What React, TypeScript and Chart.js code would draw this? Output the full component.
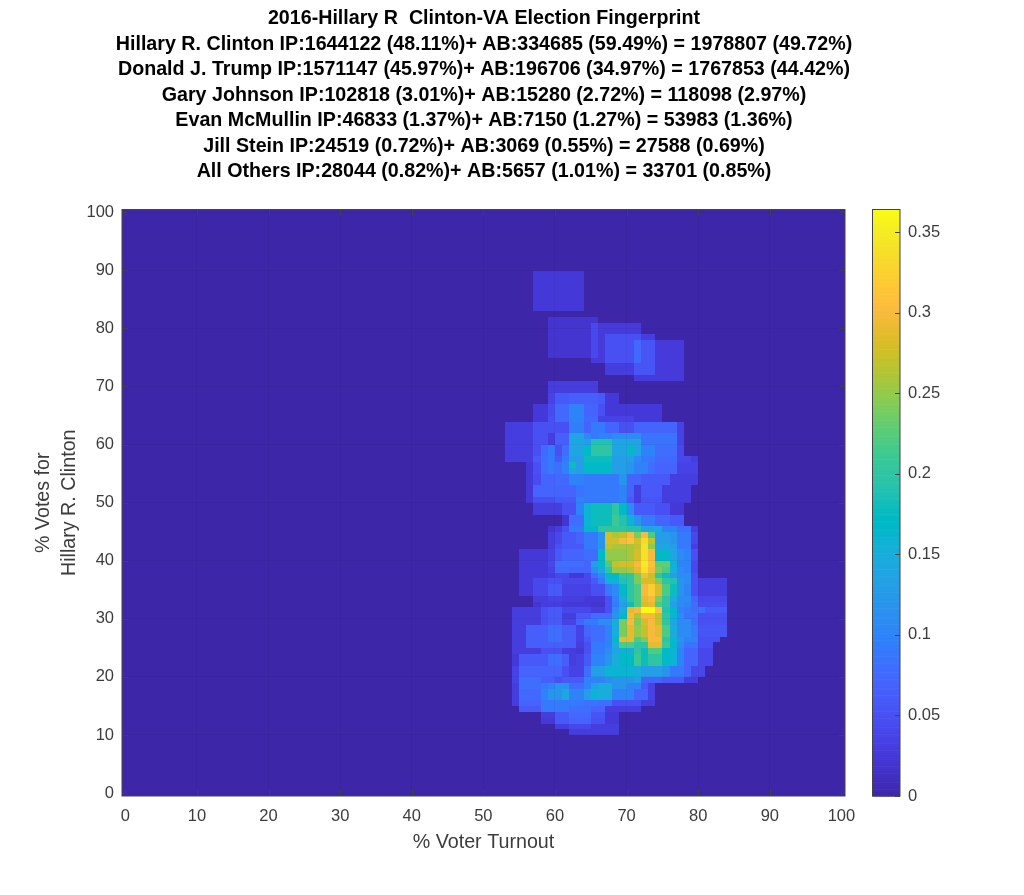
import React, { useEffect, useRef } from "react";
import { Chart, registerables } from "chart.js";

Chart.register(...registerables);

const titleLines = [
  "2016-Hillary R  Clinton-VA Election Fingerprint",
  "Hillary R. Clinton IP:1644122 (48.11%)+ AB:334685 (59.49%) = 1978807 (49.72%)",
  "Donald J. Trump IP:1571147 (45.97%)+ AB:196706 (34.97%) = 1767853 (44.42%)",
  "Gary Johnson IP:102818 (3.01%)+ AB:15280 (2.72%) = 118098 (2.97%)",
  "Evan McMullin IP:46833 (1.37%)+ AB:7150 (1.27%) = 53983 (1.36%)",
  "Jill Stein IP:24519 (0.72%)+ AB:3069 (0.55%) = 27588 (0.69%)",
  "All Others IP:28044 (0.82%)+ AB:5657 (1.01%) = 33701 (0.85%)",
];
const xAxisLabel = "% Voter Turnout";
const yAxisLabel = ["% Votes for", "Hillary R. Clinton"];
const axisTicks = [0, 10, 20, 30, 40, 50, 60, 70, 80, 90, 100];
const colorbarTicks = [0, 0.05, 0.1, 0.15, 0.2, 0.25, 0.3, 0.35];
const colorMax = 0.364;

type Run = [number, number, number];
type Row = [number, number, Run[]];

// [first row, last row, [[first column, last column, density], ...]]
const upperRows: Row[] = [
  [83, 89, [[57, 63, 0.025]]],
  [81, 81, [[59, 65, 0.02]]],
  [79, 80, [[59, 64, 0.02], [65, 65, 0.042], [66, 71, 0.027]]],
  [78, 78, [[59, 64, 0.02], [65, 65, 0.042], [66, 66, 0.027], [67, 71, 0.05], [72, 73, 0.03]]],
  [75, 77, [[59, 64, 0.02], [65, 65, 0.042], [66, 66, 0.027], [67, 70, 0.05], [71, 71, 0.075], [72, 73, 0.055], [74, 77, 0.027]]],
  [74, 74, [[65, 66, 0.027], [67, 70, 0.05], [71, 71, 0.075], [72, 73, 0.055], [74, 77, 0.027]]],
  [72, 73, [[67, 70, 0.03], [71, 73, 0.055], [74, 77, 0.027]]],
  [71, 71, [[71, 77, 0.027]]],
  [69, 70, [[59, 65, 0.03]]],
  [67, 68, [[59, 59, 0.035], [60, 61, 0.06], [62, 65, 0.065], [66, 66, 0.06], [67, 68, 0.025]]],
  [65, 66, [[57, 58, 0.025], [59, 59, 0.045], [60, 61, 0.075], [62, 63, 0.1], [64, 65, 0.07], [66, 66, 0.05], [67, 74, 0.025]]],
  [64, 64, [[57, 58, 0.025], [59, 59, 0.05], [60, 61, 0.075], [62, 63, 0.1], [64, 65, 0.075], [66, 70, 0.035], [71, 74, 0.025]]],
  [62, 63, [[53, 56, 0.03], [57, 61, 0.05], [62, 63, 0.095], [64, 64, 0.07], [65, 66, 0.09], [67, 68, 0.07], [69, 70, 0.05], [71, 76, 0.07], [77, 77, 0.035]]],
  [61, 61, [[53, 56, 0.03], [57, 58, 0.05], [59, 59, 0.03], [60, 61, 0.065], [62, 63, 0.14], [64, 64, 0.105], [65, 65, 0.09], [66, 67, 0.1], [68, 71, 0.11], [72, 76, 0.085], [77, 77, 0.035]]],
  [60, 60, [[53, 56, 0.03], [57, 58, 0.05], [59, 59, 0.03], [60, 61, 0.065], [62, 63, 0.14], [64, 64, 0.13], [65, 67, 0.19], [68, 71, 0.14], [72, 76, 0.085], [77, 77, 0.035]]],
  [58, 59, [[53, 56, 0.03], [57, 57, 0.05], [58, 58, 0.075], [59, 59, 0.09], [60, 60, 0.05], [61, 61, 0.08], [62, 63, 0.14], [64, 64, 0.17], [65, 67, 0.2], [68, 69, 0.14], [70, 70, 0.17], [71, 71, 0.14], [72, 73, 0.1], [74, 76, 0.08], [77, 77, 0.04]]],
  [57, 57, [[53, 56, 0.03], [57, 57, 0.06], [58, 58, 0.08], [59, 59, 0.09], [60, 60, 0.06], [61, 61, 0.09], [62, 63, 0.13], [64, 67, 0.18], [68, 70, 0.13], [71, 71, 0.11], [72, 73, 0.09], [74, 76, 0.075], [77, 78, 0.04], [79, 79, 0.03]]],
  [56, 56, [[56, 56, 0.025], [57, 57, 0.05], [58, 58, 0.08], [59, 59, 0.09], [60, 60, 0.08], [61, 61, 0.1], [62, 62, 0.18], [63, 63, 0.13], [64, 67, 0.17], [68, 69, 0.13], [70, 70, 0.12], [71, 72, 0.1], [73, 73, 0.08], [74, 76, 0.07], [77, 79, 0.035]]],
  [55, 55, [[56, 56, 0.025], [57, 57, 0.05], [58, 58, 0.08], [59, 59, 0.09], [60, 60, 0.08], [61, 61, 0.1], [62, 62, 0.14], [63, 63, 0.13], [64, 67, 0.17], [68, 69, 0.13], [70, 70, 0.12], [71, 72, 0.1], [73, 73, 0.08], [74, 76, 0.07], [77, 79, 0.035]]],
  [53, 54, [[56, 56, 0.025], [57, 57, 0.045], [58, 59, 0.07], [60, 61, 0.075], [62, 63, 0.1], [64, 68, 0.09], [69, 69, 0.12], [70, 71, 0.07], [72, 75, 0.06], [76, 79, 0.03]]],
];

const middleRows: Row[] = [
  [51, 52, [[56, 56, 0.025], [57, 62, 0.07], [63, 63, 0.085], [64, 68, 0.09], [69, 69, 0.1], [70, 70, 0.07], [71, 71, 0.03], [72, 74, 0.06], [75, 78, 0.03]]],
  [50, 50, [[56, 56, 0.025], [57, 59, 0.05], [60, 62, 0.06], [63, 63, 0.1], [64, 68, 0.09], [69, 69, 0.1], [70, 70, 0.06], [71, 71, 0.03], [72, 74, 0.055], [75, 78, 0.03]]],
  [48, 49, [[57, 60, 0.03], [61, 62, 0.05], [63, 63, 0.1], [64, 64, 0.16], [65, 67, 0.18], [68, 68, 0.2], [69, 69, 0.17], [70, 70, 0.11], [71, 73, 0.06], [74, 75, 0.05], [76, 77, 0.025]]],
  [46, 47, [[61, 61, 0.02], [62, 63, 0.08], [64, 64, 0.16], [65, 67, 0.18], [68, 68, 0.21], [69, 69, 0.19], [70, 70, 0.16], [71, 71, 0.12], [72, 73, 0.09], [74, 75, 0.07], [76, 77, 0.06]]],
  [45, 45, [[59, 59, 0.02], [60, 60, 0.03], [61, 61, 0.05], [62, 63, 0.09], [64, 65, 0.17], [66, 69, 0.2], [70, 71, 0.19], [72, 74, 0.14], [75, 76, 0.1], [77, 78, 0.08], [79, 79, 0.03]]],
  [44, 44, [[59, 59, 0.03], [60, 60, 0.04], [61, 62, 0.06], [63, 63, 0.07], [64, 65, 0.09], [66, 66, 0.12], [67, 67, 0.28], [68, 68, 0.26], [69, 69, 0.27], [70, 70, 0.3], [71, 71, 0.24], [72, 72, 0.3], [73, 73, 0.22], [74, 75, 0.13], [76, 76, 0.12], [77, 78, 0.09], [79, 79, 0.04]]],
  [43, 43, [[59, 59, 0.03], [60, 60, 0.04], [61, 62, 0.06], [63, 63, 0.07], [64, 65, 0.09], [66, 66, 0.12], [67, 68, 0.28], [69, 69, 0.3], [70, 70, 0.31], [71, 71, 0.28], [72, 72, 0.33], [73, 73, 0.27], [74, 75, 0.13], [76, 76, 0.12], [77, 78, 0.09], [79, 79, 0.04]]],
  [42, 42, [[59, 59, 0.03], [60, 60, 0.05], [61, 63, 0.06], [64, 65, 0.09], [66, 66, 0.12], [67, 67, 0.27], [68, 70, 0.26], [71, 71, 0.27], [72, 72, 0.34], [73, 73, 0.25], [74, 75, 0.14], [76, 76, 0.13], [77, 78, 0.09], [79, 79, 0.03]]],
  [40, 41, [[55, 58, 0.025], [59, 59, 0.035], [60, 60, 0.06], [61, 63, 0.07], [64, 65, 0.08], [66, 66, 0.17], [67, 69, 0.25], [70, 70, 0.26], [71, 71, 0.28], [72, 72, 0.34], [73, 73, 0.3], [74, 75, 0.17], [76, 76, 0.14], [77, 77, 0.11], [78, 78, 0.1], [79, 79, 0.05]]],
  [39, 39, [[55, 58, 0.025], [59, 59, 0.04], [60, 63, 0.08], [64, 64, 0.07], [65, 65, 0.13], [66, 66, 0.17], [67, 67, 0.22], [68, 68, 0.27], [69, 70, 0.28], [71, 71, 0.3], [72, 72, 0.35], [73, 73, 0.31], [74, 75, 0.23], [76, 76, 0.16], [77, 78, 0.1], [79, 79, 0.04]]],
  [38, 38, [[55, 58, 0.025], [59, 59, 0.035], [60, 61, 0.075], [62, 64, 0.07], [65, 65, 0.11], [66, 66, 0.14], [67, 67, 0.2], [68, 69, 0.25], [70, 70, 0.26], [71, 71, 0.29], [72, 72, 0.34], [73, 73, 0.3], [74, 74, 0.24], [75, 75, 0.22], [76, 76, 0.15], [77, 77, 0.11], [78, 78, 0.1], [79, 79, 0.04]]],
  [37, 37, [[55, 58, 0.025], [59, 59, 0.03], [60, 61, 0.04], [62, 63, 0.025], [64, 64, 0.04], [65, 65, 0.08], [66, 66, 0.11], [67, 68, 0.17], [69, 70, 0.2], [71, 71, 0.24], [72, 72, 0.3], [73, 73, 0.27], [74, 74, 0.2], [75, 75, 0.18], [76, 76, 0.13], [77, 78, 0.11], [79, 79, 0.05]]],
  [36, 36, [[55, 56, 0.025], [57, 58, 0.04], [59, 60, 0.05], [61, 64, 0.04], [65, 65, 0.06], [66, 66, 0.09], [67, 68, 0.16], [69, 69, 0.19], [70, 70, 0.2], [71, 71, 0.24], [72, 73, 0.28], [74, 74, 0.24], [75, 75, 0.2], [76, 76, 0.19], [77, 77, 0.12], [78, 78, 0.11], [79, 79, 0.05], [80, 83, 0.03]]],
  [34, 35, [[55, 56, 0.025], [57, 58, 0.04], [59, 60, 0.06], [61, 64, 0.035], [65, 66, 0.05], [67, 67, 0.09], [68, 68, 0.11], [69, 69, 0.17], [70, 70, 0.2], [71, 71, 0.22], [72, 72, 0.3], [73, 73, 0.32], [74, 74, 0.28], [75, 75, 0.22], [76, 76, 0.18], [77, 77, 0.12], [78, 78, 0.1], [79, 79, 0.05], [80, 83, 0.03]]],
  [33, 33, [[57, 58, 0.03], [59, 60, 0.035], [61, 63, 0.03], [64, 66, 0.025], [67, 67, 0.05], [68, 68, 0.1], [69, 69, 0.15], [70, 70, 0.2], [71, 71, 0.22], [72, 72, 0.29], [73, 73, 0.3], [74, 74, 0.24], [75, 75, 0.2], [76, 76, 0.15], [77, 78, 0.11], [79, 79, 0.07], [80, 83, 0.04]]],
  [32, 32, [[57, 57, 0.02], [58, 60, 0.03], [61, 64, 0.025], [65, 66, 0.02], [67, 67, 0.05], [68, 68, 0.09], [69, 69, 0.13], [70, 70, 0.18], [71, 71, 0.22], [72, 72, 0.28], [73, 73, 0.29], [74, 74, 0.22], [75, 75, 0.2], [76, 76, 0.13], [77, 77, 0.11], [78, 78, 0.1], [79, 79, 0.08], [80, 83, 0.045]]],
];

const lowerRows: Row[] = [
  [31, 31, [[54, 57, 0.03], [58, 58, 0.05], [59, 60, 0.06], [61, 64, 0.04], [65, 66, 0.03], [67, 67, 0.05], [68, 68, 0.11], [69, 69, 0.15], [70, 70, 0.29], [71, 71, 0.3], [72, 73, 0.364], [74, 74, 0.31], [75, 75, 0.19], [76, 76, 0.17], [77, 77, 0.1], [78, 78, 0.09], [79, 80, 0.08], [81, 83, 0.06]]],
  [30, 30, [[54, 57, 0.03], [58, 58, 0.05], [59, 60, 0.06], [61, 62, 0.03], [63, 64, 0.06], [65, 67, 0.08], [68, 68, 0.12], [69, 69, 0.17], [70, 70, 0.3], [71, 71, 0.26], [72, 73, 0.3], [74, 74, 0.27], [75, 75, 0.2], [76, 76, 0.16], [77, 77, 0.11], [78, 79, 0.085], [80, 83, 0.05]]],
  [29, 29, [[54, 57, 0.03], [58, 58, 0.05], [59, 60, 0.06], [61, 62, 0.035], [63, 63, 0.07], [64, 65, 0.09], [66, 67, 0.11], [68, 68, 0.15], [69, 69, 0.24], [70, 70, 0.3], [71, 71, 0.24], [72, 72, 0.28], [73, 73, 0.3], [74, 74, 0.27], [75, 75, 0.2], [76, 76, 0.14], [77, 78, 0.11], [79, 79, 0.08], [80, 83, 0.05]]],
  [27, 28, [[54, 55, 0.03], [56, 58, 0.065], [59, 60, 0.08], [61, 62, 0.065], [63, 63, 0.035], [64, 64, 0.07], [65, 66, 0.08], [67, 67, 0.1], [68, 68, 0.15], [69, 69, 0.24], [70, 70, 0.29], [71, 71, 0.25], [72, 72, 0.27], [73, 73, 0.3], [74, 74, 0.29], [75, 75, 0.22], [76, 76, 0.15], [77, 78, 0.11], [79, 79, 0.09], [80, 83, 0.055]]],
  [26, 26, [[54, 55, 0.03], [56, 58, 0.065], [59, 60, 0.08], [61, 62, 0.065], [63, 63, 0.035], [64, 64, 0.06], [65, 66, 0.08], [67, 67, 0.1], [68, 68, 0.17], [69, 70, 0.29], [71, 71, 0.22], [72, 72, 0.24], [73, 74, 0.3], [75, 75, 0.2], [76, 76, 0.16], [77, 77, 0.12], [78, 79, 0.1], [80, 82, 0.05]]],
  [25, 25, [[54, 55, 0.03], [56, 62, 0.065], [63, 63, 0.03], [64, 64, 0.05], [65, 66, 0.09], [67, 67, 0.1], [68, 68, 0.15], [69, 70, 0.22], [71, 72, 0.2], [73, 74, 0.29], [75, 75, 0.21], [76, 76, 0.17], [77, 77, 0.11], [78, 79, 0.085], [80, 81, 0.05]]],
  [24, 24, [[54, 57, 0.03], [58, 60, 0.05], [61, 62, 0.03], [63, 63, 0.025], [64, 64, 0.05], [65, 66, 0.09], [67, 67, 0.11], [68, 68, 0.14], [69, 69, 0.16], [70, 70, 0.15], [71, 71, 0.2], [72, 72, 0.18], [73, 74, 0.22], [75, 75, 0.17], [76, 76, 0.16], [77, 77, 0.1], [78, 79, 0.07], [80, 81, 0.04]]],
  [22, 23, [[54, 54, 0.025], [55, 58, 0.06], [59, 60, 0.08], [61, 61, 0.065], [62, 62, 0.03], [63, 63, 0.035], [64, 64, 0.06], [65, 66, 0.1], [67, 67, 0.12], [68, 68, 0.15], [69, 70, 0.17], [71, 71, 0.21], [72, 72, 0.18], [73, 74, 0.2], [75, 75, 0.17], [76, 76, 0.16], [77, 77, 0.1], [78, 79, 0.07], [80, 81, 0.04]]],
  [20, 21, [[54, 54, 0.035], [55, 60, 0.07], [61, 61, 0.05], [62, 63, 0.035], [64, 64, 0.08], [65, 66, 0.13], [67, 70, 0.16], [71, 71, 0.15], [72, 74, 0.13], [75, 75, 0.12], [76, 77, 0.09], [78, 78, 0.07], [79, 80, 0.04]]],
  [19, 19, [[54, 54, 0.035], [55, 57, 0.08], [58, 59, 0.065], [60, 60, 0.05], [61, 63, 0.06], [64, 66, 0.1], [67, 67, 0.11], [68, 70, 0.12], [71, 71, 0.13], [72, 74, 0.07], [75, 77, 0.06], [78, 79, 0.03]]],
  [18, 18, [[54, 54, 0.03], [55, 57, 0.08], [58, 58, 0.09], [59, 59, 0.1], [60, 61, 0.12], [62, 63, 0.08], [64, 64, 0.1], [65, 65, 0.13], [66, 67, 0.15], [68, 69, 0.12], [70, 71, 0.1], [72, 72, 0.06], [73, 73, 0.035]]],
  [16, 17, [[54, 54, 0.03], [55, 57, 0.075], [58, 58, 0.1], [59, 60, 0.12], [61, 61, 0.14], [62, 63, 0.1], [64, 64, 0.13], [65, 65, 0.16], [66, 67, 0.15], [68, 70, 0.1], [71, 72, 0.07], [73, 73, 0.035]]],
  [15, 15, [[54, 54, 0.03], [55, 57, 0.07], [58, 63, 0.09], [64, 65, 0.085], [66, 67, 0.08], [68, 71, 0.05], [72, 73, 0.03]]],
  [14, 14, [[55, 57, 0.06], [58, 61, 0.09], [62, 64, 0.08], [65, 66, 0.07], [67, 71, 0.03]]],
  [13, 13, [[58, 59, 0.03], [60, 61, 0.06], [62, 64, 0.075], [65, 66, 0.055], [67, 68, 0.025]]],
  [12, 12, [[58, 59, 0.025], [60, 61, 0.06], [62, 64, 0.07], [65, 66, 0.05], [67, 68, 0.025]]],
  [11, 11, [[60, 61, 0.03], [62, 64, 0.04], [65, 68, 0.03]]],
  [10, 10, [[62, 68, 0.03]]],
];

const parula: number[][] = [
  [0.2422, 0.1504, 0.6603], [0.2504, 0.165, 0.7076], [0.2578, 0.1818, 0.7511], [0.2647, 0.1978, 0.7952],
  [0.2706, 0.2147, 0.8364], [0.2751, 0.2342, 0.871], [0.2783, 0.2559, 0.8991], [0.2803, 0.2782, 0.9221],
  [0.2813, 0.3006, 0.9414], [0.281, 0.3228, 0.9579], [0.2795, 0.3447, 0.9717], [0.276, 0.3667, 0.9829],
  [0.2699, 0.3892, 0.9906], [0.2602, 0.4123, 0.9952], [0.244, 0.4358, 0.9988], [0.2206, 0.4603, 0.9973],
  [0.1963, 0.4847, 0.9892], [0.1834, 0.5074, 0.9798], [0.1786, 0.5289, 0.9682], [0.1764, 0.5499, 0.952],
  [0.1687, 0.5703, 0.9359], [0.154, 0.5902, 0.9218], [0.146, 0.6091, 0.9079], [0.138, 0.6276, 0.8973],
  [0.1248, 0.6459, 0.8883], [0.1113, 0.6635, 0.8763], [0.0952, 0.6798, 0.8598], [0.0689, 0.6948, 0.8394],
  [0.0297, 0.7082, 0.8163], [0.0036, 0.7203, 0.7917], [0.0067, 0.7312, 0.766], [0.0433, 0.7411, 0.7394],
  [0.0964, 0.75, 0.712], [0.1408, 0.7584, 0.6842], [0.1717, 0.767, 0.6554], [0.1938, 0.7758, 0.6251],
  [0.2161, 0.7843, 0.5923], [0.247, 0.7918, 0.5567], [0.2906, 0.7973, 0.5188], [0.3406, 0.8008, 0.4789],
  [0.3909, 0.8029, 0.4354], [0.4456, 0.8024, 0.3909], [0.5044, 0.7993, 0.348], [0.5616, 0.7942, 0.3045],
  [0.6174, 0.7876, 0.2612], [0.672, 0.7793, 0.2227], [0.7242, 0.7698, 0.191], [0.7738, 0.7598, 0.1646],
  [0.8203, 0.7498, 0.1535], [0.8634, 0.7406, 0.1596], [0.9035, 0.733, 0.1774], [0.9393, 0.7288, 0.21],
  [0.9728, 0.7298, 0.2394], [0.9956, 0.7434, 0.2371], [0.997, 0.7659, 0.2199], [0.9952, 0.7893, 0.2028],
  [0.9892, 0.8136, 0.1885], [0.9786, 0.8386, 0.1766], [0.9676, 0.8639, 0.1643], [0.961, 0.889, 0.1537],
  [0.9597, 0.9135, 0.1423], [0.9628, 0.9373, 0.1265], [0.9691, 0.9606, 0.1064], [0.9769, 0.9839, 0.0805],
];

function colorFor(v: number): string {
  const t = Math.max(0, Math.min(1, v / colorMax)) * (parula.length - 1);
  const i = Math.floor(t);
  const f = t - i;
  const a = parula[i];
  const b = parula[Math.min(i + 1, parula.length - 1)];
  const c = [0, 1, 2].map((k) => Math.round(255 * (a[k] + (b[k] - a[k]) * f)));
  return `rgb(${c[0]},${c[1]},${c[2]})`;
}

function buildCells() {
  const lookup = new Map<string, number>();
  [...upperRows, ...middleRows, ...lowerRows].forEach(([y0, y1, runs]) => {
    for (let y = y0; y <= y1; y++) {
      runs.forEach(([x0, x1, v]) => {
        for (let x = x0; x <= x1; x++) lookup.set(`${x}:${y}`, v);
      });
    }
  });
  const cells: { x: number; y: number; v: number }[] = [];
  for (let y = -1; y <= 100; y++) {
    for (let x = -1; x <= 100; x++) {
      cells.push({ x, y, v: lookup.get(`${x}:${y}`) ?? 0 });
    }
  }
  return cells;
}

const INK = "#3c3c3c";
const EDGE = "#444444";
const FAMILY = '"Liberation Sans", Arial, sans-serif';
const ROW_SHIFT = -0.05;

const heatPlugin = {
  id: "heat",
  beforeDatasetsDraw(chart: any) {
    const { ctx, chartArea: a, scales } = chart;
    const { x: sx, y: sy, bar: sb } = scales;
    ctx.save();
    ctx.beginPath();
    ctx.rect(a.left, a.top, a.right - a.left, a.bottom - a.top);
    ctx.clip();
    chart.data.datasets[0].data.forEach((c: any) => {
      const l = Math.round(sx.getPixelForValue(c.x));
      const r = Math.round(sx.getPixelForValue(c.x + 1));
      const t = Math.round(sy.getPixelForValue(c.y + 1 + ROW_SHIFT));
      const b = Math.round(sy.getPixelForValue(c.y + ROW_SHIFT));
      ctx.fillStyle = colorFor(c.v);
      ctx.fillRect(l, t, r - l, b - t);
    });
    ctx.restore();

    // colour bar, drawn against its own axis
    const barLeft = 872.5;
    const barRight = 900;
    const steps = 256;
    for (let i = 0; i < steps; i++) {
      const v0 = (colorMax * i) / steps;
      const v1 = (colorMax * (i + 1)) / steps;
      const y0 = sb.getPixelForValue(v0);
      const y1 = sb.getPixelForValue(v1);
      ctx.fillStyle = colorFor((v0 + v1) / 2);
      ctx.fillRect(barLeft, y1, barRight - barLeft, y0 - y1 + 0.6);
    }
  },
  afterDatasetsDraw(chart: any) {
    const { ctx, chartArea: a, scales } = chart;
    const { x: sx, y: sy, bar: sb } = scales;
    const barLeft = 872.5;
    const barRight = 900;
    ctx.save();
    ctx.strokeStyle = EDGE;
    ctx.lineWidth = 1;
    const len = 6;
    ctx.beginPath();
    sx.ticks.forEach((t: any) => {
      const p = Math.round(sx.getPixelForValue(t.value)) + 0.5;
      ctx.moveTo(p, a.bottom);
      ctx.lineTo(p, a.bottom - len);
      ctx.moveTo(p, a.top);
      ctx.lineTo(p, a.top + len);
    });
    sy.ticks.forEach((t: any) => {
      const p = Math.round(sy.getPixelForValue(t.value)) + 0.5;
      ctx.moveTo(a.left, p);
      ctx.lineTo(a.left + len, p);
      ctx.moveTo(a.right, p);
      ctx.lineTo(a.right - len, p);
    });
    sb.ticks.forEach((t: any) => {
      const p = Math.round(sb.getPixelForValue(t.value)) + 0.5;
      ctx.moveTo(barRight, p);
      ctx.lineTo(barRight - 5, p);
    });
    ctx.stroke();
    ctx.strokeRect(a.left, a.top, a.right - a.left, a.bottom - a.top);
    ctx.strokeRect(barLeft, a.top, barRight - barLeft, a.bottom - a.top);
    ctx.restore();
  },
};

export default function App() {
  const ref = useRef<HTMLCanvasElement>(null);
  useEffect(() => {
    const chart = new Chart(ref.current as HTMLCanvasElement, {
      type: "scatter",
      data: { datasets: [{ data: buildCells(), pointRadius: 0, showLine: false }] as any },
      plugins: [heatPlugin],
      options: {
        animation: false,
        responsive: false,
        parsing: false,
        devicePixelRatio: 1,
        layout: { padding: { left: 0, right: 56, top: 0, bottom: 0 } },
        plugins: {
          legend: { display: false },
          tooltip: { enabled: false },
          title: {
            display: true,
            text: titleLines,
            color: "#000",
            font: { family: FAMILY, size: 19.67, weight: "bold", lineHeight: 25.5 / 19.67 },
            padding: { top: 6, bottom: 25 },
          },
        },
        scales: {
          x: {
            type: "linear",
            min: -0.46,
            max: 100.5,
            afterBuildTicks: (s: any) => {
              s.ticks = axisTicks.map((value) => ({ value }));
            },
            afterFit: (s: any) => {
              s.height = 99;
            },
            grid: { color: "rgba(0,0,0,0.04)", z: 1, drawTicks: false },
            border: { display: false },
            ticks: { color: INK, font: { family: FAMILY, size: 16.5 }, padding: 11, maxRotation: 0, autoSkip: false },
            title: { display: true, text: xAxisLabel, color: INK, font: { family: FAMILY, size: 19.7 }, padding: { top: 8, bottom: 41 } },
          },
          y: {
            type: "linear",
            position: "left",
            min: -0.5,
            max: 100.45,
            afterBuildTicks: (s: any) => {
              s.ticks = axisTicks.map((value) => ({ value }));
            },
            afterFit: (s: any) => {
              s.width = 122;
            },
            grid: { color: "rgba(0,0,0,0.04)", z: 1, drawTicks: false },
            border: { display: false },
            ticks: { color: INK, font: { family: FAMILY, size: 16.5 }, padding: 8, autoSkip: false },
            title: { display: true, text: yAxisLabel, color: INK, font: { family: FAMILY, size: 19.7, lineHeight: 26 / 19.7 }, padding: { top: 31, bottom: 0 } },
          },
          bar: {
            type: "linear",
            position: "right",
            min: 0,
            max: colorMax,
            afterBuildTicks: (s: any) => {
              s.ticks = colorbarTicks.map((value) => ({ value }));
            },
            afterFit: (s: any) => {
              s.width = 123;
            },
            grid: { display: false, drawTicks: false },
            border: { display: false },
            ticks: {
              color: INK,
              font: { family: FAMILY, size: 16.5 },
              padding: 63,
              autoSkip: false,
              callback: (v: any) => String(parseFloat(Number(v).toFixed(2))),
            },
          },
        },
      } as any,
    });
    return () => chart.destroy();
  }, []);
  return (
    <canvas
      ref={ref}
      width={1024}
      height={895}
      style={{ position: "absolute", left: 0, top: 0, display: "block", background: "#fff" }}
    />
  );
}
